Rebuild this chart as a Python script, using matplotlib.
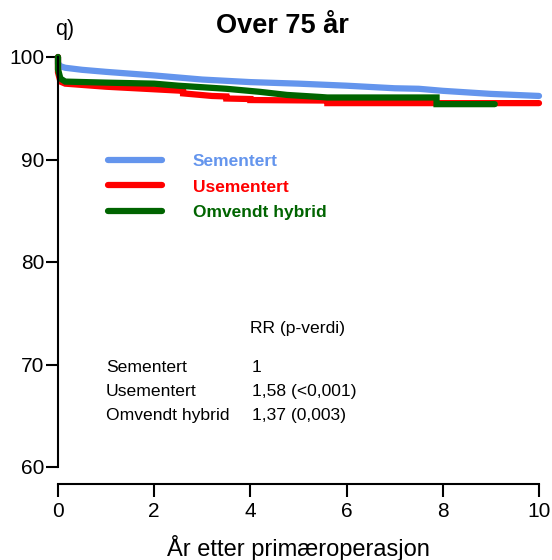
import numpy as np
import matplotlib
matplotlib.use("Agg")
import matplotlib.pyplot as plt

plt.rcParams['font.family'] = ['Liberation Sans', 'DejaVu Sans']

# survival (%); repeated times give the vertical drops
blue_t = [0, 0, 0.05, 0.15, 0.5, 1, 2, 3, 4, 5, 6, 7, 7.5, 8, 9, 10]
blue_s = [100, 99.4, 99.1, 98.95, 98.75, 98.55, 98.2, 97.8, 97.55, 97.4, 97.2,
          96.95, 96.9, 96.7, 96.4, 96.2]

red_t = [0, 0, 0.05, 0.15, 1.0, 2.0, 2.6, 2.6, 3.2, 3.5, 3.5, 4.0, 4.0, 5.6, 5.6, 10]
red_s = [100, 98.5, 97.6, 97.4, 97.1, 96.85, 96.7, 96.45, 96.2, 96.15, 95.95, 95.9,
         95.8, 95.75, 95.5, 95.5]

green_t = [0, 0, 0.05, 0.15, 1.0, 2.0, 2.5, 3.5, 4.2, 4.76, 5.45, 5.6, 7.87, 7.87, 9.08]
green_s = [100, 98.8, 97.9, 97.6, 97.5, 97.4, 97.2, 96.9, 96.6, 96.3, 96.1, 96.05,
           96.05, 95.4, 95.4]

groups = ["Sementert", "Usementert", "Omvendt hybrid"]
colors = ["#6495ED", "#FF0000", "#006400"]
rr_values = ["1", "1,58 (<0,001)", "1,37 (0,003)"]

fig = plt.figure(figsize=(5.52, 5.6), dpi=100)
ax = fig.add_axes([58 / 552, 1 - 467 / 560, 481 / 552, 410 / 560])

series = [(blue_t, blue_s), (red_t, red_s), (green_t, green_s)]
for (t, s), c, lab in zip(series, colors, groups):
    ax.plot(t, s, color=c, lw=4.5, label=lab, solid_capstyle='round',
            solid_joinstyle='miter', clip_on=False)

ax.set_xlim(0, 10)
ax.set_ylim(60, 100)
ax.set_xticks(np.arange(0, 11, 2))
ax.set_yticks(np.arange(60, 101, 10))
for sp in ['top', 'right']:
    ax.spines[sp].set_visible(False)
ax.spines['left'].set_bounds(60, 100)
ax.spines['bottom'].set_position(('outward', 12))
for sp in ['left', 'bottom']:
    ax.spines[sp].set_linewidth(1.5)
ax.tick_params(width=1.5, length=9, labelsize=15, pad=1)
ax.tick_params(axis='x', pad=4.5)
ax.set_xlabel("År etter primæroperasjon", fontsize=17, labelpad=9.5)

leg = ax.legend(loc='upper left', bbox_to_anchor=(0.104, 0.763), frameon=False,
                handlelength=3.1, handletextpad=1.78, labelspacing=0.58,
                borderpad=0, borderaxespad=0, labelcolor='linecolor',
                prop={'weight': 'bold', 'size': 12.5})

# RR table
ax.text(3.99, 73.5, "RR (p-verdi)", fontsize=12.6, va='center', ha='left')
for i, (g, rr) in enumerate(zip(groups, rr_values)):
    y = 69.7 - i * 2.33
    ax.text(1.0, y, g, fontsize=12.6, va='center', ha='left')
    ax.text(4.03, y, rr, fontsize=12.6, va='center', ha='left')

fig.text(282 / 552, 1 - 26 / 560, "Over 75 år", fontsize=19.5, fontweight='bold',
         ha='center', va='center')
fig.text(55 / 552, 1 - 29 / 560, "q)", fontsize=15.5, ha='left', va='center')

fig.savefig("out.png", dpi=100)
